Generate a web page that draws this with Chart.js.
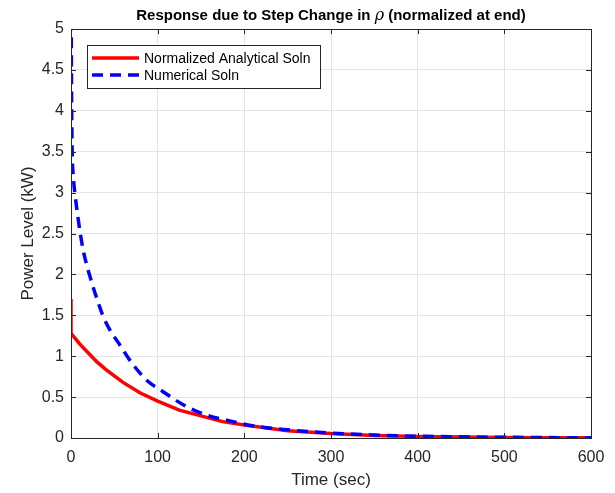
<!DOCTYPE html>
<html>
<head>
<meta charset="utf-8">
<script src="https://cdn.jsdelivr.net/npm/chart.js@4"></script>
<style>
    html, body { margin: 0; padding: 0; background: #fff; }
    #wrap { width: 615px; height: 493px; position: relative; }
</style>
</head>
<body>
<div id="wrap"><canvas id="responseChart"></canvas></div>
<script>
// Analytical solution (normalized), power in kW vs time in sec
const analyticTime  = [0, 0, 10, 20, 30, 40, 50, 60, 80, 100, 125, 150, 175, 200, 250, 300, 350, 400, 450, 500, 550, 600];
const analyticPower = [1.70, 1.28, 1.15, 1.04, 0.93, 0.84, 0.76, 0.68, 0.55, 0.45, 0.34, 0.27, 0.20, 0.16, 0.09, 0.055, 0.032, 0.019, 0.011, 0.007, 0.004, 0.002];

// Numerical solution
const numericTime  = [0, 0.5, 1.2, 2.7, 5, 8, 10, 14, 22, 30, 37, 45, 55, 70, 89, 103, 129, 155, 187, 214, 250, 300, 350, 400, 450, 500, 550, 600];
const numericPower = [6.0, 4.5, 3.6, 3.2, 2.95, 2.7, 2.55, 2.3, 1.97, 1.7, 1.49, 1.32, 1.16, 0.92, 0.69, 0.59, 0.41, 0.285, 0.2, 0.142, 0.1, 0.06, 0.037, 0.022, 0.014, 0.009, 0.005, 0.003];

const seriesNames = ['Normalized Analytical Soln', 'Numerical Soln'];
const xTicks = [0, 100, 200, 300, 400, 500, 600];
const yTicks = [0, 0.5, 1, 1.5, 2, 2.5, 3, 3.5, 4, 4.5, 5];

const FONT = '"Liberation Sans", Arial, Helvetica, sans-serif';
const AXIS_COLOR = '#262626';

const toPoints = (xs, ys) => xs.map((x, i) => ({ x: x, y: ys[i] }));

// box around the axes plus inward tick marks on all four sides
const framePlugin = {
    id: 'frame',
    afterDatasetsDraw(chart) {
        const { ctx, chartArea: a, scales } = chart;
        ctx.save();
        ctx.strokeStyle = AXIS_COLOR;
        ctx.lineWidth = 1;
        ctx.strokeRect(Math.round(a.left) + 0.5, Math.round(a.top) + 0.5,
            Math.round(a.right - a.left), Math.round(a.bottom - a.top));
        const len = 5;
        ctx.beginPath();
        xTicks.forEach(v => {
            const px = Math.round(scales.x.getPixelForValue(v)) + 0.5;
            ctx.moveTo(px, a.bottom); ctx.lineTo(px, a.bottom - len);
            ctx.moveTo(px, a.top); ctx.lineTo(px, a.top + len);
        });
        yTicks.forEach(v => {
            const py = Math.round(scales.y.getPixelForValue(v)) + 0.5;
            ctx.moveTo(a.left, py); ctx.lineTo(a.left + len, py);
            ctx.moveTo(a.right, py); ctx.lineTo(a.right - len, py);
        });
        ctx.stroke();
        ctx.restore();
    }
};

// title, axis labels and the boxed legend
const labelsPlugin = {
    id: 'labels',
    afterDraw(chart) {
        const { ctx, chartArea: a } = chart;
        const cx = (a.left + a.right) / 2;
        ctx.save();
        ctx.fillStyle = '#000';
        ctx.textBaseline = 'middle';

        // title with an italic rho
        const parts = [
            { t: 'Response due to Step Change in ', f: 'bold 15px ' + FONT },
            { t: 'ρ', f: 'italic 16px "DejaVu Serif", "Liberation Serif", serif' },
            { t: ' (normalized at end)', f: 'bold 15px ' + FONT }
        ];
        let total = 0;
        parts.forEach(p => { ctx.font = p.f; p.w = ctx.measureText(p.t).width; total += p.w; });
        let x = cx - total / 2;
        ctx.textAlign = 'left';
        parts.forEach(p => { ctx.font = p.f; ctx.fillText(p.t, x, 16); x += p.w; });

        // axis titles
        ctx.fillStyle = AXIS_COLOR;
        ctx.font = '17px ' + FONT;
        ctx.textAlign = 'center';
        ctx.fillText('Time (sec)', cx, 480);
        ctx.save();
        ctx.translate(28, (a.top + a.bottom) / 2);
        ctx.rotate(-Math.PI / 2);
        ctx.fillText('Power Level (kW)', 0, 0);
        ctx.restore();

        // legend
        const lx = 87, ly = 45, lw = 233, lh = 43;
        ctx.fillStyle = '#fff';
        ctx.fillRect(lx, ly, lw, lh);
        ctx.strokeStyle = AXIS_COLOR;
        ctx.lineWidth = 1;
        ctx.strokeRect(lx + 0.5, ly + 0.5, lw, lh);
        chart.data.datasets.forEach((ds, i) => {
            const y = ly + 13 + i * 17;
            ctx.strokeStyle = ds.borderColor;
            ctx.lineWidth = ds.borderWidth;
            ctx.setLineDash(ds.borderDash || []);
            ctx.beginPath();
            ctx.moveTo(lx + 5, y);
            ctx.lineTo(lx + 52, y);
            ctx.stroke();
            ctx.setLineDash([]);
            ctx.fillStyle = '#000';
            ctx.font = '14px ' + FONT;
            ctx.textAlign = 'left';
            ctx.fillText(ds.label, lx + 57, y + 1);
        });
        ctx.restore();
    }
};

new Chart(document.getElementById('responseChart'), {
    type: 'line',
    data: {
        datasets: [
            {
                label: seriesNames[0],
                data: toPoints(analyticTime, analyticPower),
                borderColor: '#ff0000',
                borderWidth: 3.5,
                pointRadius: 0,
                tension: 0,
                order: 1
            },
            {
                label: seriesNames[1],
                data: toPoints(numericTime, numericPower),
                borderColor: '#0000ff',
                borderWidth: 3.5,
                borderDash: [11, 7],
                pointRadius: 0,
                cubicInterpolationMode: 'monotone',
                order: 0
            }
        ]
    },
    options: {
        responsive: true,
        maintainAspectRatio: false,
        animation: false,
        events: [],
        layout: { padding: { left: 0, right: 24, top: 29, bottom: 0 } },
        plugins: {
            legend: { display: false },
            title: { display: false },
            tooltip: { enabled: false }
        },
        scales: {
            x: {
                type: 'linear',
                min: 0,
                max: 600,
                afterFit: s => { s.height = 55; },
                afterBuildTicks: s => { s.ticks = xTicks.map(v => ({ value: v })); },
                grid: { color: '#e4e4e4', drawTicks: false },
                border: { display: false },
                ticks: {
                    color: AXIS_COLOR, font: { family: FONT, size: 16 }, padding: 10, maxRotation: 0,
                    callback: v => String(v)
                }
            },
            y: {
                min: 0,
                max: 5,
                afterFit: s => { s.width = 71; },
                afterBuildTicks: s => { s.ticks = yTicks.map(v => ({ value: v })); },
                grid: { color: '#e4e4e4', drawTicks: false },
                border: { display: false },
                ticks: {
                    color: AXIS_COLOR, font: { family: FONT, size: 16 }, padding: 7,
                    callback: v => String(v)
                }
            }
        }
    },
    plugins: [framePlugin, labelsPlugin]
});
</script>
</body>
</html>
